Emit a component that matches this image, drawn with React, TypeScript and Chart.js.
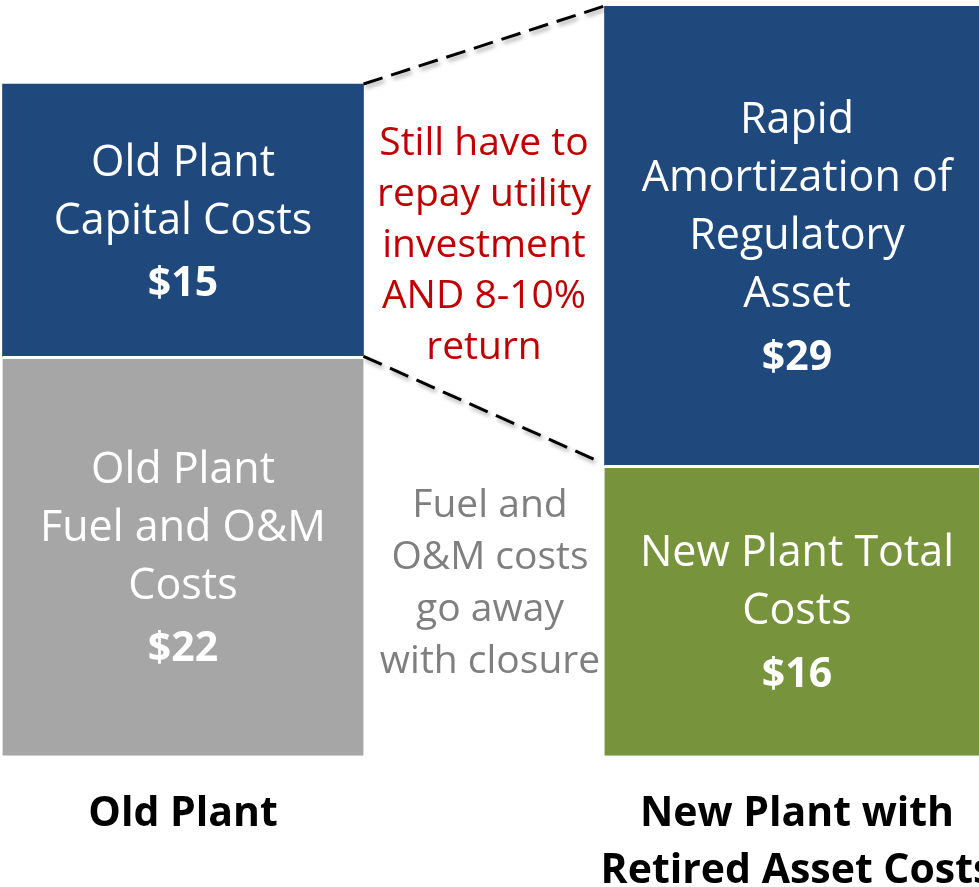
import React, { useEffect, useRef } from "react";
import { Chart, registerables } from "chart.js";

Chart.register(...registerables);

// ---- data ----
const categories = [["Old Plant"], ["New Plant with", "Retired Asset Costs"]];
const oldFuelOm = [22, null];
const oldCapital = [15, null];
const newPlantTotal = [null, 16];
const regulatoryAsset = [null, 29];

const oldFuelLabel = ["Old Plant", "Fuel and O&M", "Costs"];
const oldCapitalLabel = ["Old Plant", "Capital Costs"];
const newTotalLabel = ["New Plant Total", "Costs"];
const regulatoryLabel = ["Rapid", "Amortization of", "Regulatory", "Asset"];

const repayNote = ["Still have to", "repay utility", "investment", "AND 8-10%", "return"];
const fuelNote = ["Fuel and", "O&M costs", "go away", "with closure"];
const repayNoteAt = 28.3;
const fuelNoteAt = 9.7;
const yMax = 41.3;

// ---- styles ----
const BLUE = "#1F497D";
const GRAY = "#A6A6A6";
const GREEN = "#77933C";
const RED = "#C00000";
const NOTE_GRAY = "#7F7F7F";
const FONT = "'Open Sans', Lato, sans-serif";
const TEXT_SHIFT = 4;

const segmentLabels = [oldFuelLabel, oldCapitalLabel, newTotalLabel, regulatoryLabel];

const overlayPlugin = {
  id: "overlay",
  afterDatasetsDraw(chart: any) {
    const ctx = chart.ctx;
    const area = chart.chartArea;
    const yScale = chart.scales.y;
    ctx.save();
    ctx.textAlign = "center";
    ctx.textBaseline = "middle";

    // in-bar labels
    chart.data.datasets.forEach((ds: any, di: number) => {
      const meta = chart.getDatasetMeta(di);
      meta.data.forEach((el: any, i: number) => {
        const v = ds.data[i];
        if (v === null || v === undefined) return;
        const p = el.getProps(["x", "y", "base"], true);
        const top = Math.max(p.y, area.top);
        const center = (top + p.base) / 2 + TEXT_SHIFT;
        const lines = segmentLabels[di];
        const lh = 58;
        const dollarGap = 63;
        const span = (lines.length - 1) * lh + dollarGap;
        let y = center - span / 2;
        ctx.fillStyle = "#FFFFFF";
        ctx.font = `400 43px ${FONT}`;
        lines.forEach((t: string) => {
          ctx.fillText(t, p.x, y);
          y += lh;
        });
        y += dollarGap - lh;
        ctx.font = `700 41px ${FONT}`;
        ctx.fillText(`$${v}`, p.x, y);
      });
    });

    // connecting dashed lines
    const oldCap = chart.getDatasetMeta(1).data[0].getProps(["x", "y", "base", "width"], true);
    const reg = chart.getDatasetMeta(3).data[1].getProps(["x", "y", "base", "width"], true);
    const x1 = oldCap.x + oldCap.width / 2;
    const x2 = reg.x - reg.width / 2;
    ctx.strokeStyle = "#000000";
    ctx.lineWidth = 3;
    ctx.setLineDash([20, 9]);
    ctx.shadowColor = "rgba(0,0,0,0.35)";
    ctx.shadowBlur = 4;
    ctx.shadowOffsetX = 2;
    ctx.shadowOffsetY = 3;
    ctx.beginPath();
    ctx.moveTo(x1, oldCap.y);
    ctx.lineTo(x2, Math.max(reg.y, area.top));
    ctx.moveTo(x1, oldCap.base);
    ctx.lineTo(x2 - 4, reg.base - 3);
    ctx.stroke();
    ctx.setLineDash([]);
    ctx.shadowColor = "transparent";

    // notes between bars
    const midX = (x1 + x2) / 2;
    const drawNote = (lines: string[], at: number, color: string, lh: number, dx: number) => {
      const cy = yScale.getPixelForValue(at) + TEXT_SHIFT;
      let y = cy - ((lines.length - 1) * lh) / 2;
      ctx.fillStyle = color;
      ctx.font = `400 39px ${FONT}`;
      lines.forEach((t) => {
        ctx.fillText(t, midX + dx, y);
        y += lh;
      });
    };
    drawNote(repayNote, repayNoteAt, RED, 51, 0);
    drawNote(fuelNote, fuelNoteAt, NOTE_GRAY, 52, 6);
    ctx.restore();
  },
};

export default function App() {
  const ref = useRef<HTMLCanvasElement>(null);
  useEffect(() => {
    if (!ref.current) return;
    const gap = { top: 3, left: 0, right: 0, bottom: 0 };
    const chart = new Chart(ref.current, {
      type: "bar",
      data: {
        labels: categories,
        datasets: [
          { label: "Old Plant Fuel and O&M Costs", data: oldFuelOm, backgroundColor: GRAY, borderColor: "#FFFFFF", borderWidth: gap, borderSkipped: false, barThickness: 361, clip: 0 },
          { label: "Old Plant Capital Costs", data: oldCapital, backgroundColor: BLUE, borderWidth: 0, barThickness: 361, clip: 0 },
          { label: "New Plant Total Costs", data: newPlantTotal, backgroundColor: GREEN, borderColor: "#FFFFFF", borderWidth: gap, borderSkipped: false, barThickness: 385, clip: 0 },
          { label: "Rapid Amortization of Regulatory Asset", data: regulatoryAsset, backgroundColor: BLUE, borderWidth: 0, barThickness: 385, clip: 0 },
        ] as any,
      },
      options: {
        animation: false,
        responsive: false,
        layout: { padding: { top: 6, left: 0, right: 0, bottom: 0 } },
        plugins: { legend: { display: false }, tooltip: { enabled: false } },
        scales: {
          x: {
            stacked: true,
            grid: { display: false, drawTicks: false },
            border: { display: false },
            ticks: {
              color: "#000000",
              padding: 31,
              font: { family: FONT, size: 41, weight: "bold", lineHeight: 1.37 },
              maxRotation: 0,
              autoSkip: false,
            },
          },
          y: {
            stacked: true,
            display: false,
            min: 0,
            max: yMax,
          },
        },
      } as any,
      plugins: [overlayPlugin],
    });
    return () => chart.destroy();
  }, []);

  return (
    <div style={{ position: "fixed", left: 0, top: 0, width: 979, height: 887, overflow: "hidden", background: "#FFFFFF" }}>
      <canvas ref={ref} width={1228} height={930} style={{ position: "absolute", left: -124, top: 0, width: 1228, height: 930 }} />
    </div>
  );
}
